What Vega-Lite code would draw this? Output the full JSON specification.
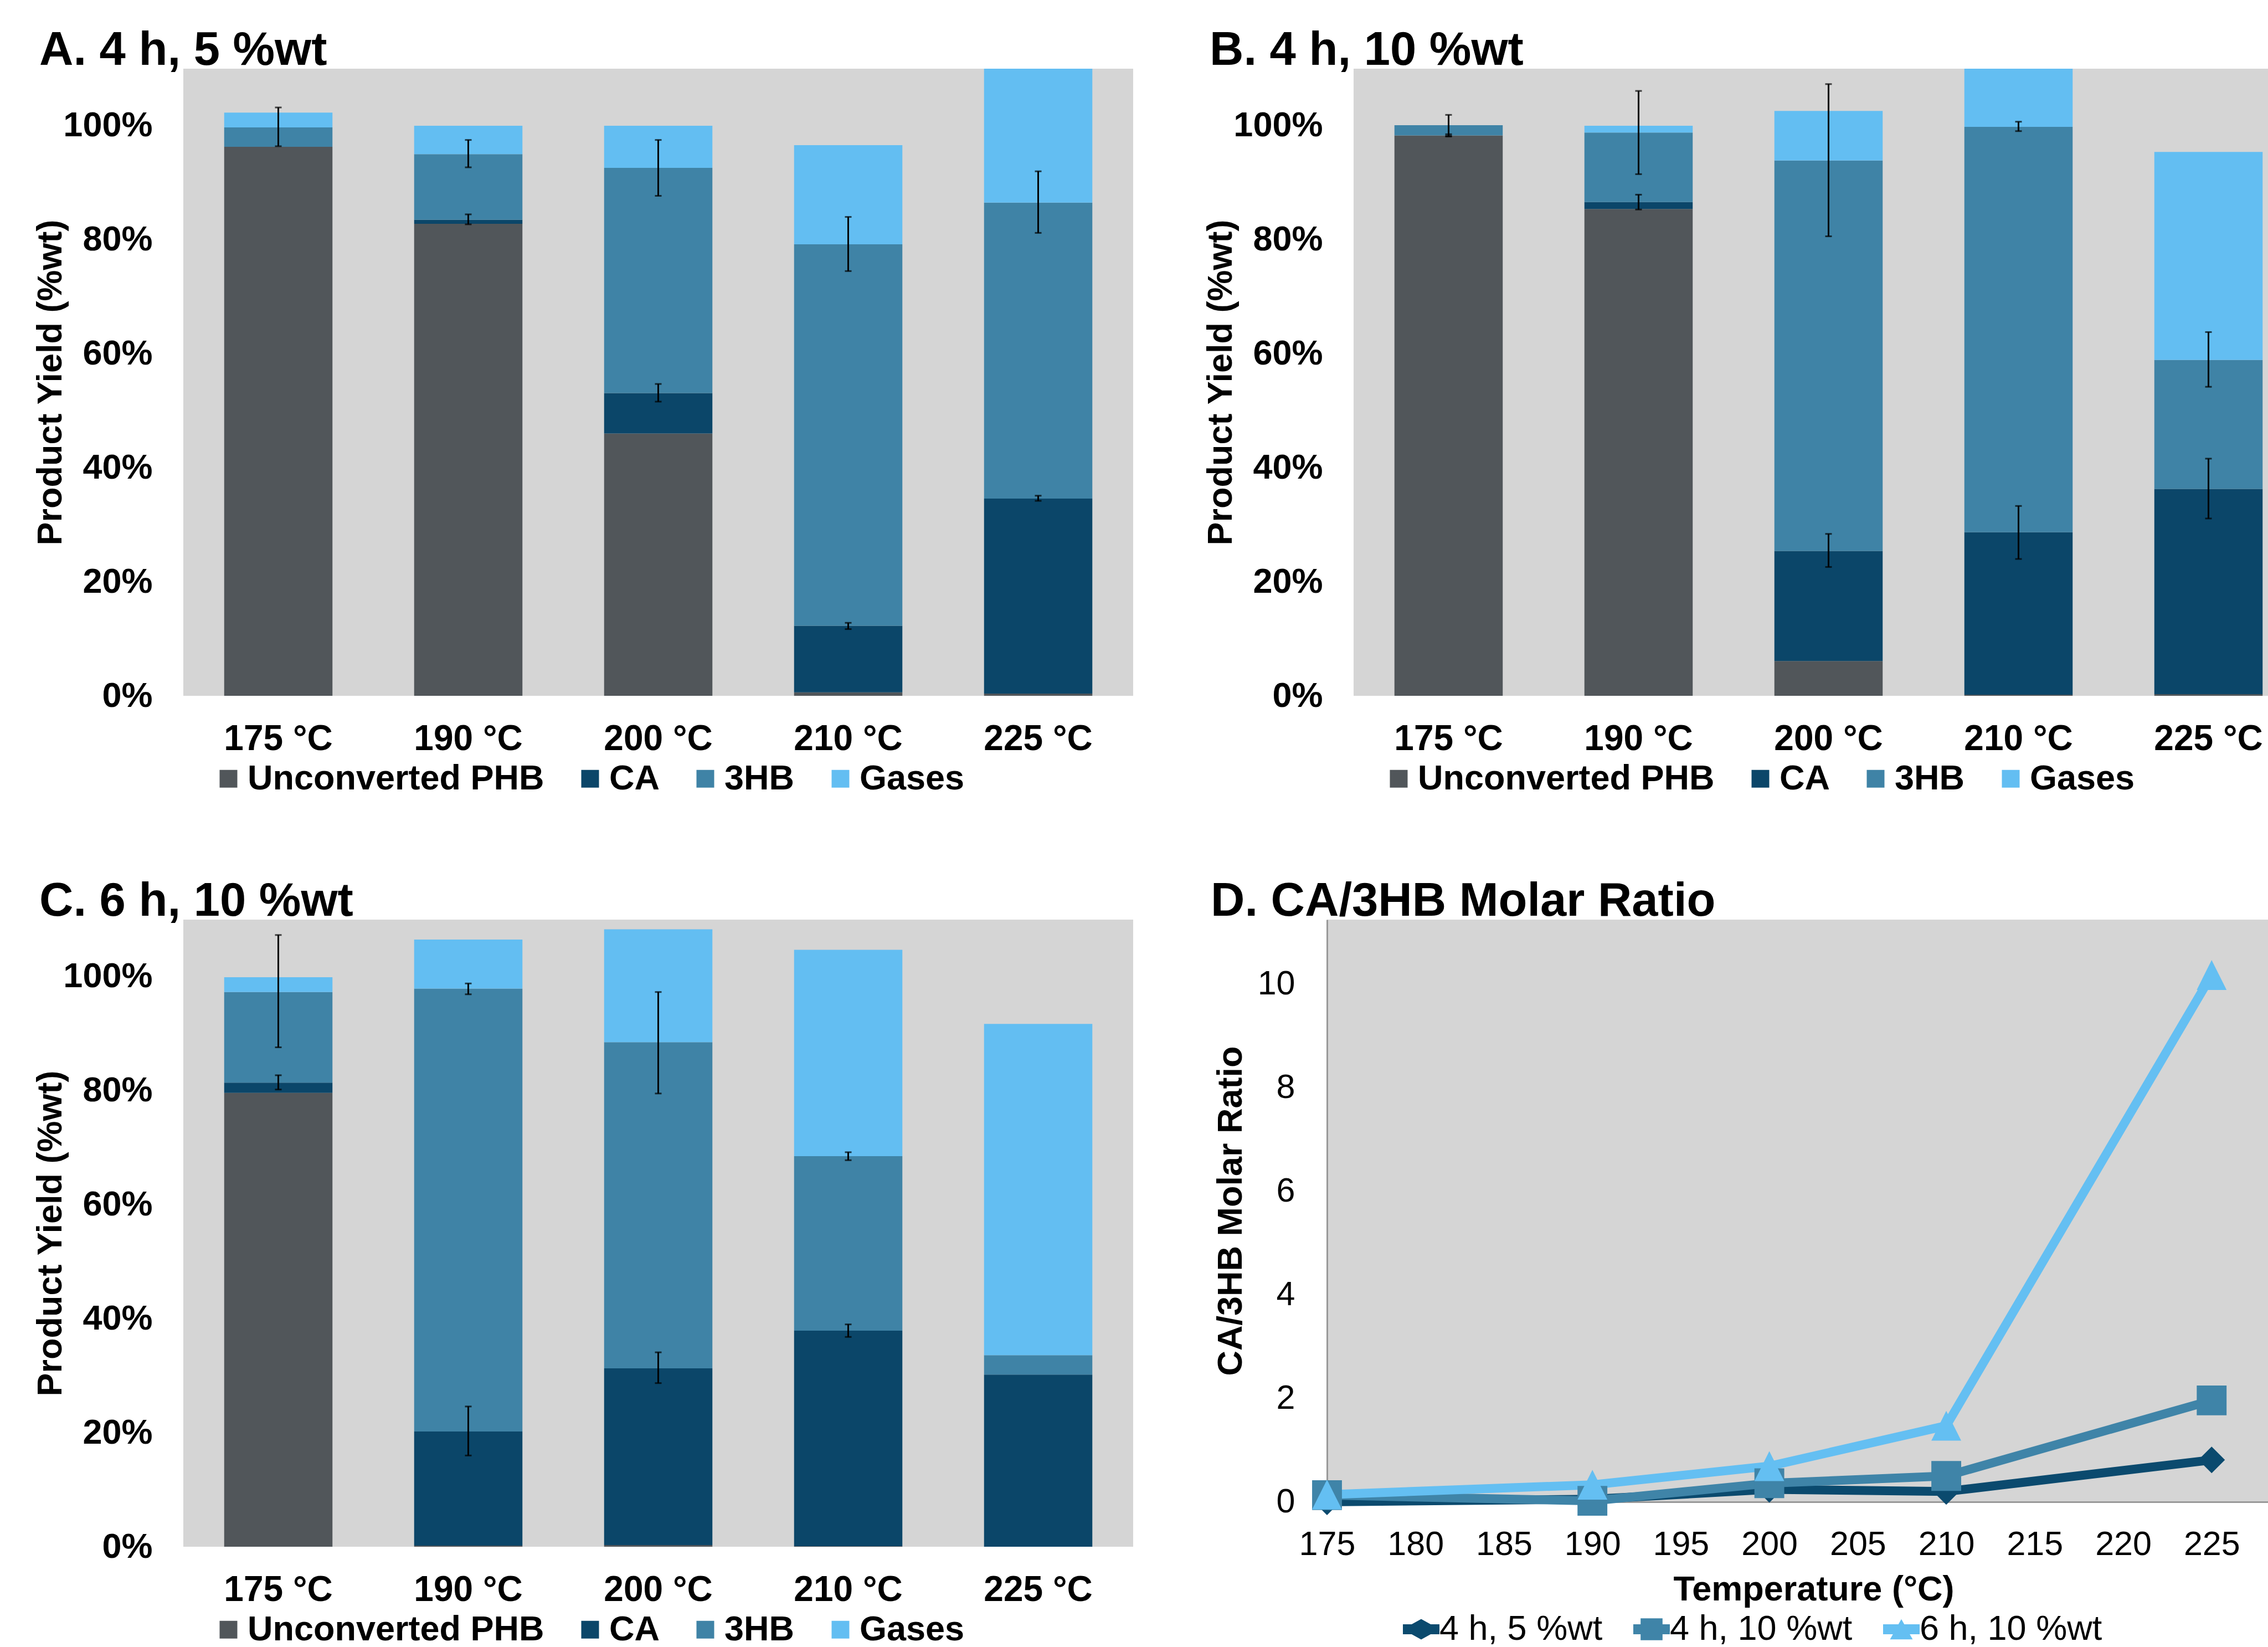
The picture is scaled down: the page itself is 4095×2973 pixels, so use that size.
{
  "$schema": "https://vega.github.io/schema/vega-lite/v6.json",
  "background": "white",
  "padding": {"left": 60, "top": 49, "right": 0, "bottom": 0},
  "config": {
    "font": "Liberation Sans",
    "view": {"fill": "#d5d5d5", "stroke": null},
    "axis": {"grid": false, "ticks": false, "domain": false, "labelColor": "black", "titleColor": "black", "labelLimit": 1000, "titleLimit": 2000, "labelOverlap": false, "labelFlush": false},
    "title": {"fontSize": 85, "fontWeight": "bold", "anchor": "start", "frame": "group", "baseline": "alphabetic", "offset": -11, "color": "black"},
    "legend": {"labelLimit": 1000, "padding": 0, "labelColor": "black"}
  },
  "datasets": {
    "bars": [
      {"panel": "A", "temp": "175 °C", "comp": "Unconverted PHB", "val": 96.3},
      {"panel": "A", "temp": "175 °C", "comp": "CA", "val": 0},
      {"panel": "A", "temp": "175 °C", "comp": "3HB", "val": 3.4},
      {"panel": "A", "temp": "175 °C", "comp": "Gases", "val": 2.6},
      {"panel": "A", "temp": "190 °C", "comp": "Unconverted PHB", "val": 82.8},
      {"panel": "A", "temp": "190 °C", "comp": "CA", "val": 0.7},
      {"panel": "A", "temp": "190 °C", "comp": "3HB", "val": 11.5},
      {"panel": "A", "temp": "190 °C", "comp": "Gases", "val": 5.0},
      {"panel": "A", "temp": "200 °C", "comp": "Unconverted PHB", "val": 46.0},
      {"panel": "A", "temp": "200 °C", "comp": "CA", "val": 7.1},
      {"panel": "A", "temp": "200 °C", "comp": "3HB", "val": 39.5},
      {"panel": "A", "temp": "200 °C", "comp": "Gases", "val": 7.4},
      {"panel": "A", "temp": "210 °C", "comp": "Unconverted PHB", "val": 0.6},
      {"panel": "A", "temp": "210 °C", "comp": "CA", "val": 11.7},
      {"panel": "A", "temp": "210 °C", "comp": "3HB", "val": 66.9},
      {"panel": "A", "temp": "210 °C", "comp": "Gases", "val": 17.4},
      {"panel": "A", "temp": "225 °C", "comp": "Unconverted PHB", "val": 0.4},
      {"panel": "A", "temp": "225 °C", "comp": "CA", "val": 34.2},
      {"panel": "A", "temp": "225 °C", "comp": "3HB", "val": 51.9},
      {"panel": "A", "temp": "225 °C", "comp": "Gases", "val": 31.5},
      {"panel": "B", "temp": "175 °C", "comp": "Unconverted PHB", "val": 98.3},
      {"panel": "B", "temp": "175 °C", "comp": "CA", "val": 0},
      {"panel": "B", "temp": "175 °C", "comp": "3HB", "val": 1.8},
      {"panel": "B", "temp": "175 °C", "comp": "Gases", "val": 0},
      {"panel": "B", "temp": "190 °C", "comp": "Unconverted PHB", "val": 85.4},
      {"panel": "B", "temp": "190 °C", "comp": "CA", "val": 1.2},
      {"panel": "B", "temp": "190 °C", "comp": "3HB", "val": 12.2},
      {"panel": "B", "temp": "190 °C", "comp": "Gases", "val": 1.2},
      {"panel": "B", "temp": "200 °C", "comp": "Unconverted PHB", "val": 6.1},
      {"panel": "B", "temp": "200 °C", "comp": "CA", "val": 19.3},
      {"panel": "B", "temp": "200 °C", "comp": "3HB", "val": 68.5},
      {"panel": "B", "temp": "200 °C", "comp": "Gases", "val": 8.7},
      {"panel": "B", "temp": "210 °C", "comp": "Unconverted PHB", "val": 0.2},
      {"panel": "B", "temp": "210 °C", "comp": "CA", "val": 28.5},
      {"panel": "B", "temp": "210 °C", "comp": "3HB", "val": 71.1},
      {"panel": "B", "temp": "210 °C", "comp": "Gases", "val": 16.2},
      {"panel": "B", "temp": "225 °C", "comp": "Unconverted PHB", "val": 0.3},
      {"panel": "B", "temp": "225 °C", "comp": "CA", "val": 36.0},
      {"panel": "B", "temp": "225 °C", "comp": "3HB", "val": 22.6},
      {"panel": "B", "temp": "225 °C", "comp": "Gases", "val": 36.5},
      {"panel": "C", "temp": "175 °C", "comp": "Unconverted PHB", "val": 79.6},
      {"panel": "C", "temp": "175 °C", "comp": "CA", "val": 1.8},
      {"panel": "C", "temp": "175 °C", "comp": "3HB", "val": 15.9},
      {"panel": "C", "temp": "175 °C", "comp": "Gases", "val": 2.6},
      {"panel": "C", "temp": "190 °C", "comp": "Unconverted PHB", "val": 0.2},
      {"panel": "C", "temp": "190 °C", "comp": "CA", "val": 20.0},
      {"panel": "C", "temp": "190 °C", "comp": "3HB", "val": 77.7},
      {"panel": "C", "temp": "190 °C", "comp": "Gases", "val": 8.6},
      {"panel": "C", "temp": "200 °C", "comp": "Unconverted PHB", "val": 0.3},
      {"panel": "C", "temp": "200 °C", "comp": "CA", "val": 31.0},
      {"panel": "C", "temp": "200 °C", "comp": "3HB", "val": 57.2},
      {"panel": "C", "temp": "200 °C", "comp": "Gases", "val": 19.8},
      {"panel": "C", "temp": "210 °C", "comp": "Unconverted PHB", "val": 0.1},
      {"panel": "C", "temp": "210 °C", "comp": "CA", "val": 37.8},
      {"panel": "C", "temp": "210 °C", "comp": "3HB", "val": 30.6},
      {"panel": "C", "temp": "210 °C", "comp": "Gases", "val": 36.2},
      {"panel": "C", "temp": "225 °C", "comp": "Unconverted PHB", "val": 0},
      {"panel": "C", "temp": "225 °C", "comp": "CA", "val": 30.2},
      {"panel": "C", "temp": "225 °C", "comp": "3HB", "val": 3.4},
      {"panel": "C", "temp": "225 °C", "comp": "Gases", "val": 58.1}
    ],
    "err": [
      {"panel": "A", "temp": "175 °C", "lo": 96.4, "hi": 103.2},
      {"panel": "A", "temp": "190 °C", "lo": 82.7, "hi": 84.45},
      {"panel": "A", "temp": "190 °C", "lo": 92.7, "hi": 97.5},
      {"panel": "A", "temp": "200 °C", "lo": 51.6, "hi": 54.7},
      {"panel": "A", "temp": "200 °C", "lo": 87.7, "hi": 97.5},
      {"panel": "A", "temp": "210 °C", "lo": 11.7, "hi": 12.8},
      {"panel": "A", "temp": "210 °C", "lo": 74.5, "hi": 84.0},
      {"panel": "A", "temp": "225 °C", "lo": 34.2, "hi": 35.1},
      {"panel": "A", "temp": "225 °C", "lo": 81.2, "hi": 92.0},
      {"panel": "B", "temp": "175 °C", "lo": 98.1, "hi": 98.5},
      {"panel": "B", "temp": "175 °C", "lo": 98.2, "hi": 101.9},
      {"panel": "B", "temp": "190 °C", "lo": 85.3, "hi": 87.9},
      {"panel": "B", "temp": "190 °C", "lo": 91.5, "hi": 106.1},
      {"panel": "B", "temp": "200 °C", "lo": 22.6, "hi": 28.4},
      {"panel": "B", "temp": "200 °C", "lo": 80.6, "hi": 107.3},
      {"panel": "B", "temp": "210 °C", "lo": 24.0, "hi": 33.3},
      {"panel": "B", "temp": "210 °C", "lo": 99.05, "hi": 100.7},
      {"panel": "B", "temp": "225 °C", "lo": 31.1, "hi": 41.6},
      {"panel": "B", "temp": "225 °C", "lo": 54.2, "hi": 63.8},
      {"panel": "C", "temp": "175 °C", "lo": 80.2, "hi": 82.7},
      {"panel": "C", "temp": "175 °C", "lo": 87.6, "hi": 107.3},
      {"panel": "C", "temp": "190 °C", "lo": 16.0, "hi": 24.6},
      {"panel": "C", "temp": "190 °C", "lo": 96.9, "hi": 98.8},
      {"panel": "C", "temp": "200 °C", "lo": 28.7, "hi": 34.1},
      {"panel": "C", "temp": "200 °C", "lo": 79.5, "hi": 97.3},
      {"panel": "C", "temp": "210 °C", "lo": 36.8, "hi": 39.0},
      {"panel": "C", "temp": "210 °C", "lo": 67.8, "hi": 69.2}
    ],
    "ratio": [
      {"series": "4 h, 5 %wt", "t": 175, "r": 0.0},
      {"series": "4 h, 5 %wt", "t": 190, "r": 0.05},
      {"series": "4 h, 5 %wt", "t": 200, "r": 0.24},
      {"series": "4 h, 5 %wt", "t": 210, "r": 0.2},
      {"series": "4 h, 5 %wt", "t": 225, "r": 0.81},
      {"series": "4 h, 10 %wt", "t": 175, "r": 0.13},
      {"series": "4 h, 10 %wt", "t": 190, "r": 0.02},
      {"series": "4 h, 10 %wt", "t": 200, "r": 0.36},
      {"series": "4 h, 10 %wt", "t": 210, "r": 0.5},
      {"series": "4 h, 10 %wt", "t": 225, "r": 1.96},
      {"series": "6 h, 10 %wt", "t": 175, "r": 0.14},
      {"series": "6 h, 10 %wt", "t": 190, "r": 0.33},
      {"series": "6 h, 10 %wt", "t": 200, "r": 0.69},
      {"series": "6 h, 10 %wt", "t": 210, "r": 1.47},
      {"series": "6 h, 10 %wt", "t": 225, "r": 10.18}
    ]
  },
  "resolve": {"scale": {"color": "independent", "x": "independent", "y": "independent"}, "legend": {"color": "independent"}},
  "spacing": 1536,
  "bounds": "flush",
  "vconcat": [
    {
      "spacing": 398,
      "bounds": "flush",
      "resolve": {"scale": {"color": "independent", "x": "independent", "y": "independent"}, "legend": {"color": "independent"}},
      "hconcat": [
        {
          "width": 1715, "height": 1132,
          "title": {"text": "A. 4 h, 5 %wt", "dx": -260},
          "layer": [
            {
              "data": {"name": "bars"},
              "transform": [{"filter": "datum.panel === 'A'"}, {"calculate": "indexof(['Unconverted PHB', 'CA', '3HB', 'Gases'], datum.comp)", "as": "k"}],
              "mark": {"type": "bar", "clip": true},
              "encoding": {
                "x": {"field": "temp", "type": "nominal", "sort": ["175 °C", "190 °C", "200 °C", "210 °C", "225 °C"], "scale": {"paddingInner": 0.43, "paddingOuter": 0.215}, "axis": {"title": null, "labelFontSize": 64, "labelFontWeight": "bold", "labelPadding": 46, "labelAngle": 0}},
                "y": {"field": "val", "type": "quantitative", "stack": "zero", "scale": {"domain": [0, 110], "nice": false}, "axis": {"title": "Product Yield (%wt)", "values": [0, 20, 40, 60, 80, 100], "labelExpr": "datum.value + '%'", "labelFontSize": 63, "labelFontWeight": "bold", "labelPadding": 56, "titleFontSize": 63, "titleFontWeight": "bold", "titlePadding": 8}},
                "order": {"field": "k", "type": "quantitative"},
                "color": {"field": "comp", "type": "nominal", "sort": ["Unconverted PHB", "CA", "3HB", "Gases"], "scale": {"domain": ["Unconverted PHB", "CA", "3HB", "Gases"], "range": ["#51565a", "#0b4669", "#3f83a6", "#63bef2"]}, "legend": {"title": null, "orient": "none", "legendX": 50, "legendY": 1250, "direction": "horizontal", "symbolType": "square", "symbolSize": 1024, "symbolStrokeWidth": 0, "symbolOpacity": 1, "labelFontSize": 63, "labelFontWeight": "bold", "labelOffset": 3, "columnPadding": 51}}
              }
            },
            {
              "data": {"name": "err"},
              "transform": [{"filter": "datum.panel === 'A'"}],
              "mark": {"type": "errorbar", "color": "black", "thickness": 3, "ticks": {"size": 12, "thickness": 3, "color": "black"}},
              "encoding": {
                "x": {"field": "temp", "type": "nominal", "sort": ["175 °C", "190 °C", "200 °C", "210 °C", "225 °C"]},
                "y": {"field": "lo", "type": "quantitative", "title": "Product Yield (%wt)"},
                "y2": {"field": "hi"}
              }
            }
          ]
        },
        {
          "width": 1715, "height": 1132,
          "title": {"text": "B. 4 h, 10 %wt", "dx": -260},
          "layer": [
            {
              "data": {"name": "bars"},
              "transform": [{"filter": "datum.panel === 'B'"}, {"calculate": "indexof(['Unconverted PHB', 'CA', '3HB', 'Gases'], datum.comp)", "as": "k"}],
              "mark": {"type": "bar", "clip": true},
              "encoding": {
                "x": {"field": "temp", "type": "nominal", "sort": ["175 °C", "190 °C", "200 °C", "210 °C", "225 °C"], "scale": {"paddingInner": 0.43, "paddingOuter": 0.215}, "axis": {"title": null, "labelFontSize": 64, "labelFontWeight": "bold", "labelPadding": 46, "labelAngle": 0}},
                "y": {"field": "val", "type": "quantitative", "stack": "zero", "scale": {"domain": [0, 110], "nice": false}, "axis": {"title": "Product Yield (%wt)", "values": [0, 20, 40, 60, 80, 100], "labelExpr": "datum.value + '%'", "labelFontSize": 63, "labelFontWeight": "bold", "labelPadding": 56, "titleFontSize": 63, "titleFontWeight": "bold", "titlePadding": 8}},
                "order": {"field": "k", "type": "quantitative"},
                "color": {"field": "comp", "type": "nominal", "sort": ["Unconverted PHB", "CA", "3HB", "Gases"], "scale": {"domain": ["Unconverted PHB", "CA", "3HB", "Gases"], "range": ["#51565a", "#0b4669", "#3f83a6", "#63bef2"]}, "legend": {"title": null, "orient": "none", "legendX": 50, "legendY": 1250, "direction": "horizontal", "symbolType": "square", "symbolSize": 1024, "symbolStrokeWidth": 0, "symbolOpacity": 1, "labelFontSize": 63, "labelFontWeight": "bold", "labelOffset": 3, "columnPadding": 51}}
              }
            },
            {
              "data": {"name": "err"},
              "transform": [{"filter": "datum.panel === 'B'"}],
              "mark": {"type": "errorbar", "color": "black", "thickness": 3, "ticks": {"size": 12, "thickness": 3, "color": "black"}},
              "encoding": {
                "x": {"field": "temp", "type": "nominal", "sort": ["175 °C", "190 °C", "200 °C", "210 °C", "225 °C"]},
                "y": {"field": "lo", "type": "quantitative", "title": "Product Yield (%wt)"},
                "y2": {"field": "hi"}
              }
            }
          ]
        }
      ]
    },
    {
      "spacing": 350,
      "bounds": "flush",
      "resolve": {"scale": {"color": "independent", "x": "independent", "y": "independent"}, "legend": {"color": "independent"}},
      "hconcat": [
        {
          "width": 1715, "height": 1132,
          "title": {"text": "C. 6 h, 10 %wt", "dx": -260},
          "layer": [
            {
              "data": {"name": "bars"},
              "transform": [{"filter": "datum.panel === 'C'"}, {"calculate": "indexof(['Unconverted PHB', 'CA', '3HB', 'Gases'], datum.comp)", "as": "k"}],
              "mark": {"type": "bar", "clip": true},
              "encoding": {
                "x": {"field": "temp", "type": "nominal", "sort": ["175 °C", "190 °C", "200 °C", "210 °C", "225 °C"], "scale": {"paddingInner": 0.43, "paddingOuter": 0.215}, "axis": {"title": null, "labelFontSize": 64, "labelFontWeight": "bold", "labelPadding": 46, "labelAngle": 0}},
                "y": {"field": "val", "type": "quantitative", "stack": "zero", "scale": {"domain": [0, 110], "nice": false}, "axis": {"title": "Product Yield (%wt)", "values": [0, 20, 40, 60, 80, 100], "labelExpr": "datum.value + '%'", "labelFontSize": 63, "labelFontWeight": "bold", "labelPadding": 56, "titleFontSize": 63, "titleFontWeight": "bold", "titlePadding": 8}},
                "order": {"field": "k", "type": "quantitative"},
                "color": {"field": "comp", "type": "nominal", "sort": ["Unconverted PHB", "CA", "3HB", "Gases"], "scale": {"domain": ["Unconverted PHB", "CA", "3HB", "Gases"], "range": ["#51565a", "#0b4669", "#3f83a6", "#63bef2"]}, "legend": {"title": null, "orient": "none", "legendX": 50, "legendY": 1250, "direction": "horizontal", "symbolType": "square", "symbolSize": 1024, "symbolStrokeWidth": 0, "symbolOpacity": 1, "labelFontSize": 63, "labelFontWeight": "bold", "labelOffset": 3, "columnPadding": 51}}
              }
            },
            {
              "data": {"name": "err"},
              "transform": [{"filter": "datum.panel === 'C'"}],
              "mark": {"type": "errorbar", "color": "black", "thickness": 3, "ticks": {"size": 12, "thickness": 3, "color": "black"}},
              "encoding": {
                "x": {"field": "temp", "type": "nominal", "sort": ["175 °C", "190 °C", "200 °C", "210 °C", "225 °C"]},
                "y": {"field": "lo", "type": "quantitative", "title": "Product Yield (%wt)"},
                "y2": {"field": "hi"}
              }
            }
          ]
        },
        {
          "width": 1757, "height": 1051,
          "title": {"text": "D. CA/3HB Molar Ratio", "dx": -210},
          "data": {"name": "ratio"},
          "encoding": {
            "x": {"field": "t", "type": "quantitative", "scale": {"domain": [175, 230], "nice": false, "zero": false}, "axis": {"title": "Temperature (°C)", "values": [175, 180, 185, 190, 195, 200, 205, 210, 215, 220, 225], "labelFontSize": 61, "labelPadding": 47, "domain": true, "domainColor": "#999999", "domainWidth": 3, "titleFontSize": 63, "titleFontWeight": "bold", "titlePadding": 20}},
            "y": {"field": "r", "type": "quantitative", "scale": {"domain": [0, 11.25], "nice": false}, "axis": {"title": "CA/3HB Molar Ratio", "values": [0, 2, 4, 6, 8, 10], "format": "d", "labelFontSize": 61, "labelPadding": 58, "domain": true, "domainColor": "#999999", "domainWidth": 3, "titleFontSize": 63, "titleFontWeight": "bold", "titlePadding": 16}}
          },
          "layer": [
            {
              "mark": {"type": "line", "strokeWidth": 16},
              "encoding": {
                "color": {"field": "series", "type": "nominal", "sort": ["4 h, 5 %wt", "4 h, 10 %wt", "6 h, 10 %wt"], "scale": {"domain": ["4 h, 5 %wt", "4 h, 10 %wt", "6 h, 10 %wt"], "range": ["#0b4a6e", "#3f84a8", "#64bff2"]},
                  "legend": {"title": null, "orient": "none", "legendX": 137, "legendY": 1248, "direction": "horizontal", "symbolSize": 4356, "symbolStrokeWidth": 0, "symbolOpacity": 1, "labelFontSize": 63, "labelOffset": 0, "columnPadding": 55,
                    "symbolType": {"expr": "datum.value === '4 h, 5 %wt' ? 'M-1,-0.27H-0.52L0,-0.56L0.52,-0.27H1V0.27H0.52L0,0.56L-0.52,0.27H-1Z' : datum.value === '4 h, 10 %wt' ? 'M-1,-0.27H-0.6V-0.6H0.6V-0.27H1V0.27H0.6V0.6H-0.6V0.27H-1Z' : 'M-1,-0.27H-0.16L0,-0.55L0.16,-0.27H1V0.27H0.46L0.62,0.55H-0.62L-0.46,0.27H-1Z'"},
                    "symbolFillColor": {"expr": "datum.value === '4 h, 5 %wt' ? '#0b4a6e' : datum.value === '4 h, 10 %wt' ? '#3f84a8' : '#64bff2'"}
                  }}
              }
            },
            {
              "transform": [{"filter": "datum.series === '4 h, 5 %wt'"}],
              "mark": {"type": "point", "shape": "diamond", "filled": true, "opacity": 1, "strokeWidth": 0, "size": 2300, "color": "#0b4a6e"}
            },
            {
              "transform": [{"filter": "datum.series === '4 h, 10 %wt'"}],
              "mark": {"type": "point", "shape": "square", "filled": true, "opacity": 1, "strokeWidth": 0, "size": 2900, "color": "#3f84a8"}
            },
            {
              "transform": [{"filter": "datum.series === '6 h, 10 %wt'"}],
              "mark": {"type": "point", "shape": "M0,-1L1,1L-1,1Z", "filled": true, "opacity": 1, "strokeWidth": 0, "size": 2900, "color": "#64bff2"}
            }
          ]
        }
      ]
    }
  ]
}
